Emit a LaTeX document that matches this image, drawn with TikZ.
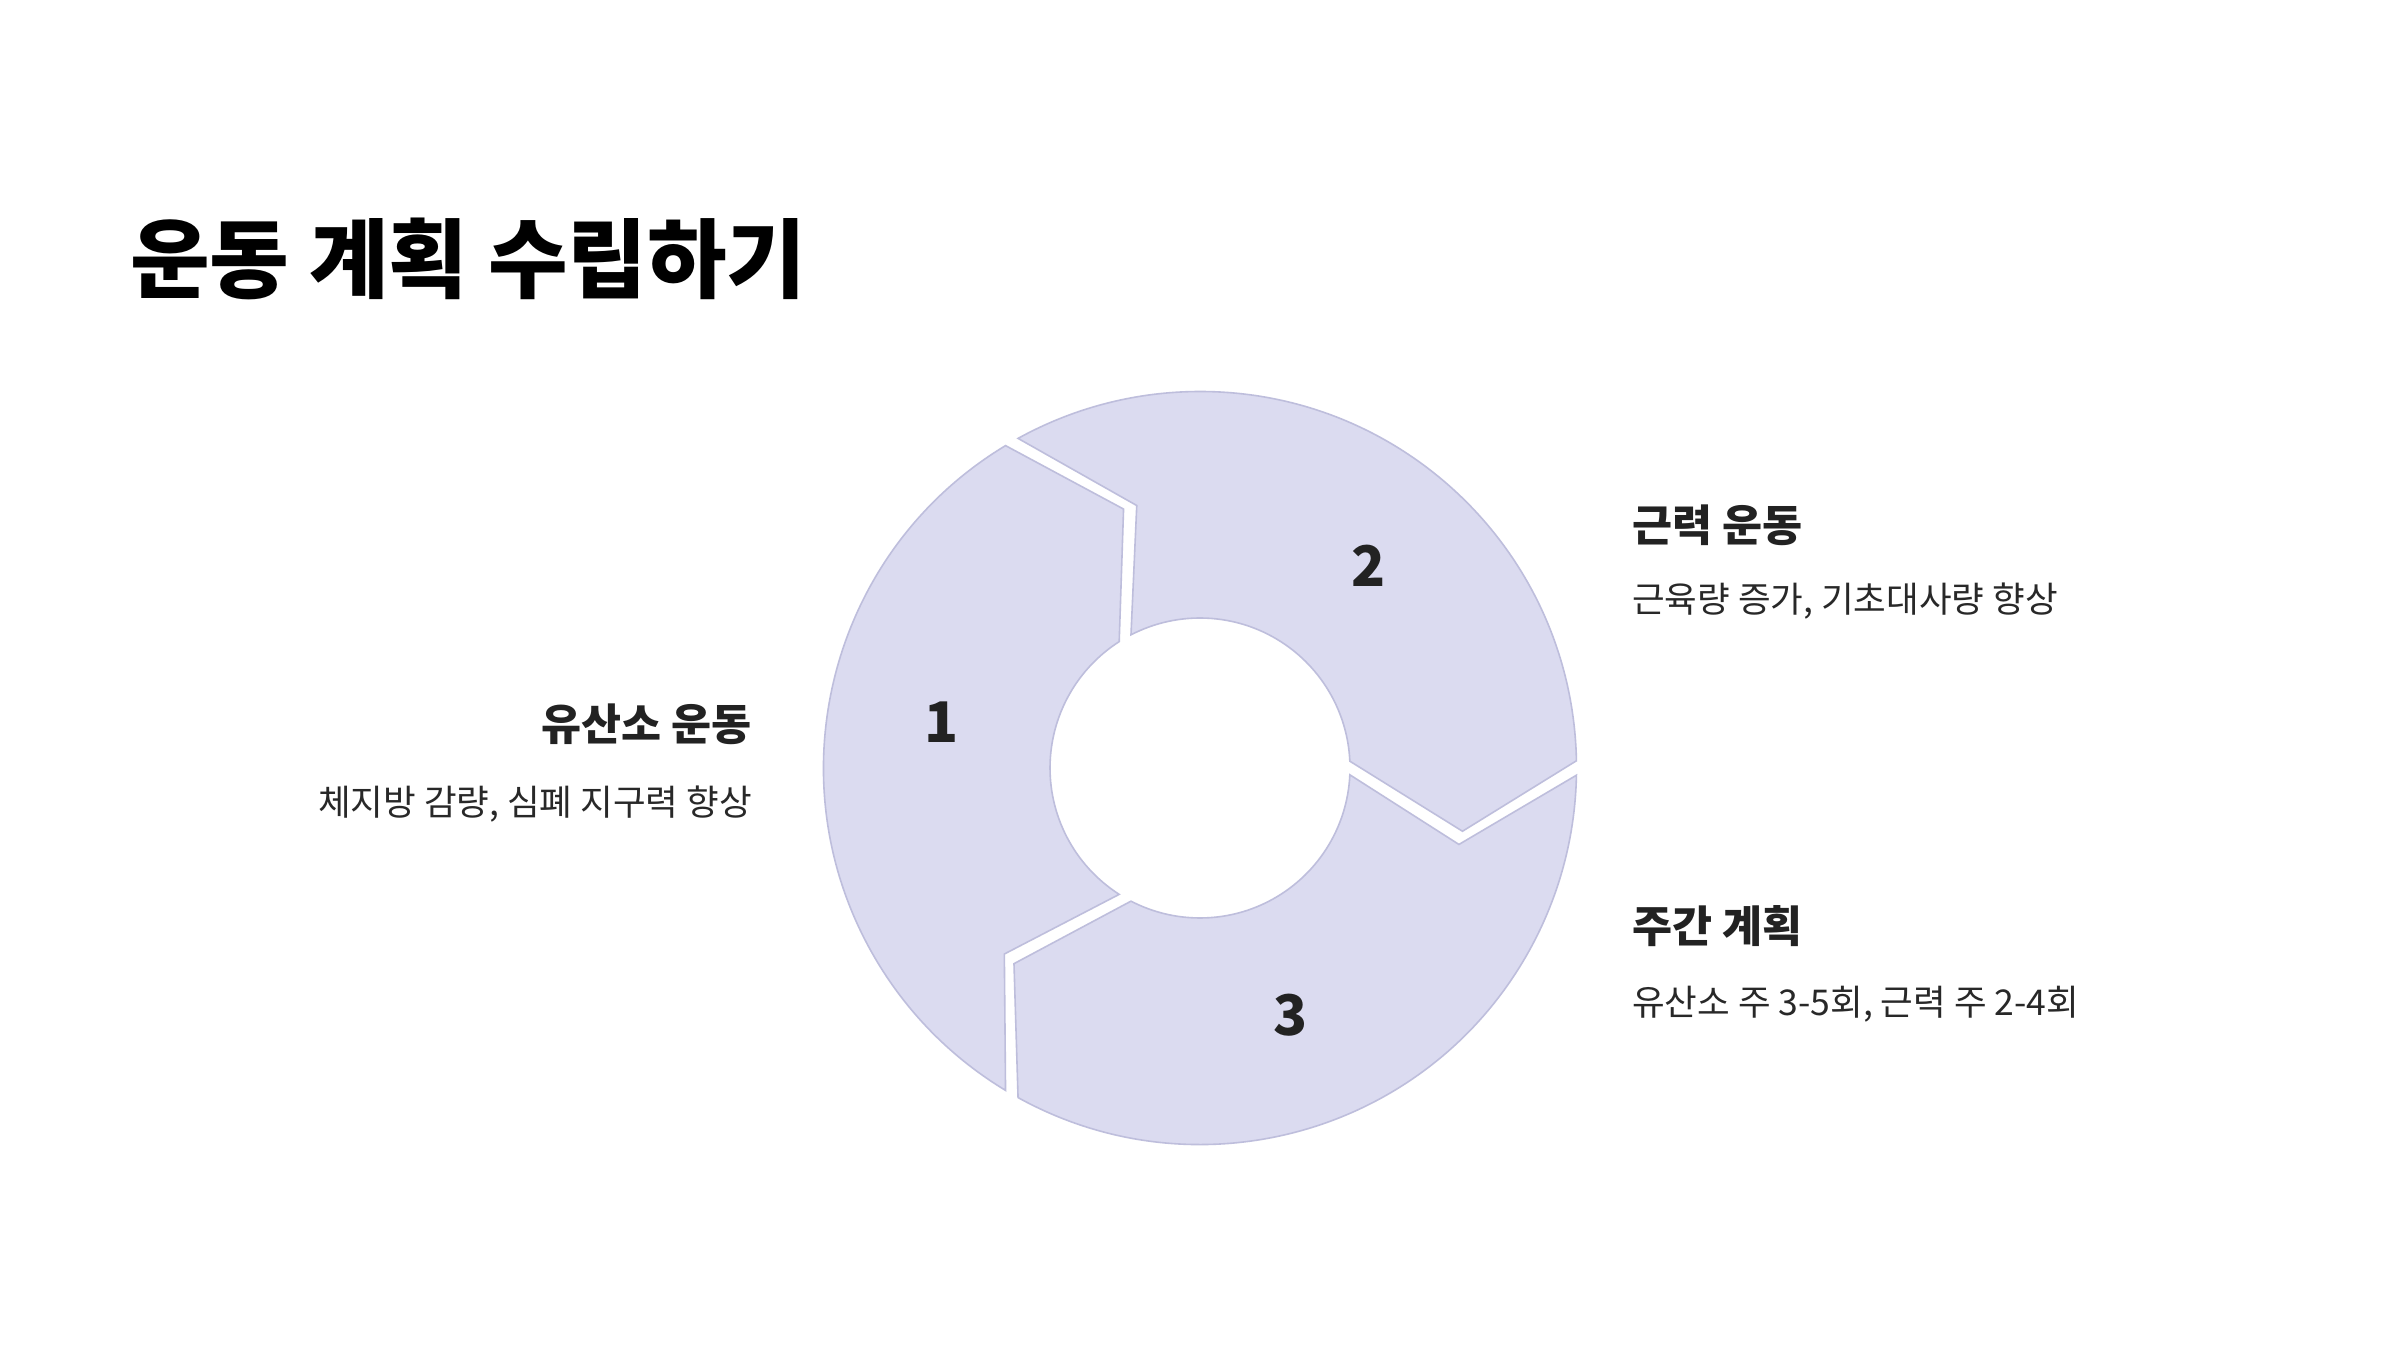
\documentclass[tikz,border=0pt]{standalone}
\usepackage{fontspec}
\setmainfont{Noto Sans CJK KR}
\begin{document}
\begin{tikzpicture}[x=1pt,y=1pt,
  seg/.style={fill={rgb,255:red,219;green,219;blue,240}, draw={rgb,255:red,190;green,190;blue,220}, line width=1.6pt, line join=miter},
  num/.style={inner sep=0pt, text={rgb,255:red,34;green,34;blue,34}, font=\bfseries\fontsize{56}{60}\selectfont},
  head/.style={inner sep=0pt, text={rgb,255:red,34;green,34;blue,34}, font=\bfseries\fontsize{43.5}{50}\selectfont},
  sub/.style={inner sep=0pt, text={rgb,255:red,40;green,40;blue,40}, font=\fontsize{35.5}{42}\selectfont}]
\useasboundingbox[fill=white] (0,0) rectangle (2400,1350);
% title
\node[inner sep=0pt, anchor=west, font=\bfseries\fontsize{86.5}{96}\selectfont] (title) at (130,1091) {운동 계획 수립하기};
% ring
\begin{scope}[shift={(1200,582)}]
\foreach \a in {0,120,240}{
  \draw[seg] (\a+1.1:376.5pt) arc[start angle=\a+1.1, end angle=\a+118.9, radius=376.5pt]
    -- (\a+103.55:270pt) -- (\a+117.4:150pt)
    arc[start angle=\a+117.4, end angle=\a+2.6, radius=150pt]
    -- (\a-13.55:270pt) -- cycle;
}
\end{scope}
\node[num] (n1) at (942,628) {1};
\node[num] (n2) at (1369,784) {2};
\node[num] (n3) at (1291,335) {3};
% labels
\node[head, anchor=west] (h2) at (1632,825) {근력 운동};
\node[sub, anchor=west] (s2) at (1632,749) {근육량 증가, 기초대사량 향상};
\node[head, anchor=west] (h3) at (1632,424) {주간 계획};
\node[sub, anchor=west] (s3) at (1632,346) {유산소 주 3-5회, 근력 주 2-4회};
\node[head, anchor=east] (h1) at (752,626) {유산소 운동};
\node[sub, anchor=east] (s1) at (752,546) {체지방 감량, 심폐 지구력 향상};
\end{tikzpicture}
\end{document}
